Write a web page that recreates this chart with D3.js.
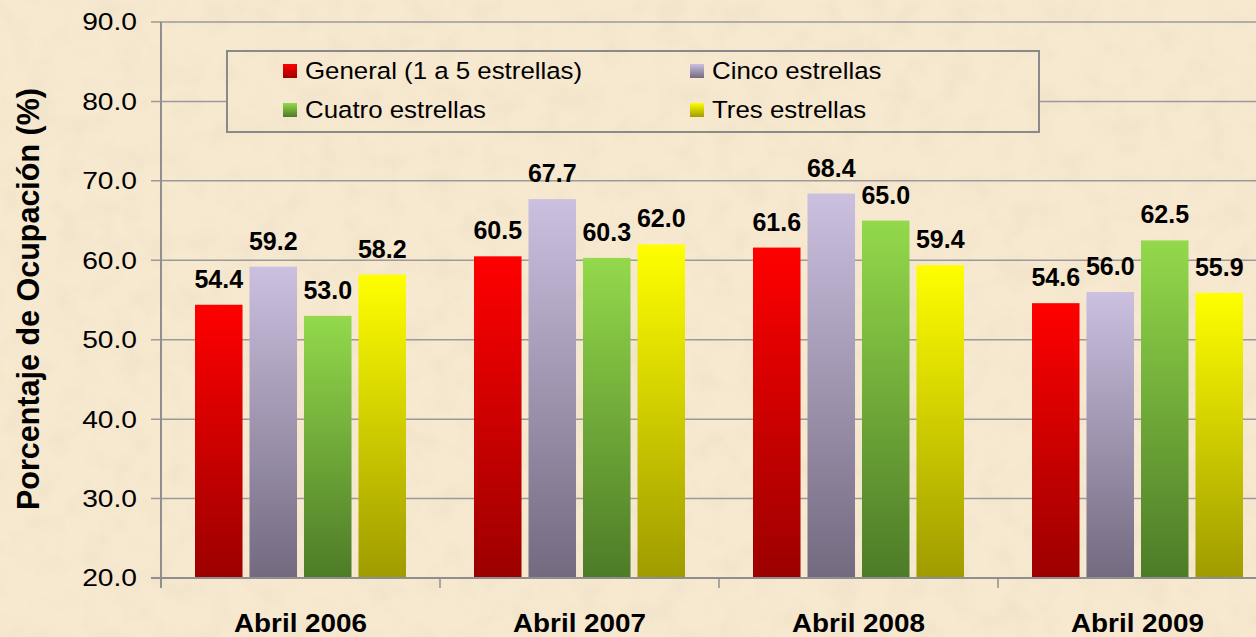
<!DOCTYPE html>
<head>
<meta charset="utf-8">
<script src="https://d3js.org/d3.v7.min.js"></script>
</head>
<style>
body { margin: 0; background: #f7e8d0; }
text { font-family: Arial, "Liberation Sans", sans-serif; fill: #000; }
.grid line { stroke: #9a9a9a; stroke-width: 1.5px; }
</style>
<body>
<script>
// data
var periods = ["Abril 2006", "Abril 2007", "Abril 2008", "Abril 2009"];
var seriesNames = ["General (1 a 5 estrellas)", "Cinco estrellas", "Cuatro estrellas", "Tres estrellas"];
var general = [54.4, 60.5, 61.6, 54.6];
var cinco   = [59.2, 67.7, 68.4, 56.0];
var cuatro  = [53.0, 60.3, 65.0, 62.5];
var tres    = [58.2, 62.0, 59.4, 55.9];
var yTicks  = [20, 30, 40, 50, 60, 70, 80, 90];

var seriesValues = [general, cinco, cuatro, tres];
var colors = [
  {top: "#ff0000", bottom: "#9c0000"},
  {top: "#cbc0df", bottom: "#736a80"},
  {top: "#93d94b", bottom: "#4d7b27"},
  {top: "#ffff00", bottom: "#9f9b00"}
];

var W = 1256, H = 637;
var plot = {left: 161, top: 22, bottom: 578, catWidth: 279};
var bg = "#f7e8d0";

var svg = d3.select("body").append("svg")
    .attr("width", W)
    .attr("height", H);

var defs = svg.append("defs");

// parchment texture
var filt = defs.append("filter").attr("id", "paper")
    .attr("x", 0).attr("y", 0).attr("width", "100%").attr("height", "100%");
filt.append("feTurbulence").attr("type", "fractalNoise")
    .attr("baseFrequency", "0.035").attr("numOctaves", 4).attr("seed", 7);
filt.append("feColorMatrix").attr("type", "matrix")
    .attr("values", "0 0 0 0 0.6  0 0 0 0 0.5  0 0 0 0 0.38  0 0 0 -1.6 0.95");

colors.forEach(function(c, i) {
  var g = defs.append("linearGradient").attr("id", "grad" + i)
      .attr("x1", 0).attr("y1", 0).attr("x2", 0).attr("y2", 1);
  g.append("stop").attr("offset", "0%").attr("stop-color", c.top);
  g.append("stop").attr("offset", "100%").attr("stop-color", c.bottom);
});

svg.append("rect").attr("width", W).attr("height", H).attr("fill", bg);
svg.append("rect").attr("width", W).attr("height", H)
    .attr("filter", "url(#paper)").attr("opacity", 0.14);

var x = d3.scaleBand()
    .domain(periods)
    .range([plot.left, plot.left + plot.catWidth * periods.length])
    .padding(0);

var xs = d3.scaleBand()
    .domain(d3.range(seriesNames.length))
    .range([34, 245])
    .paddingInner(0.128)
    .paddingOuter(0);

var y = d3.scaleLinear().domain([20, 90]).range([plot.bottom, plot.top]);

// gridlines
svg.append("g").attr("class", "grid")
  .selectAll("line").data(yTicks).enter().append("line")
    .attr("x1", plot.left - 10).attr("x2", W)
    .attr("y1", function(d) { return y(d); })
    .attr("y2", function(d) { return y(d); });

// y tick labels
svg.append("g").selectAll("text").data(yTicks).enter().append("text")
    .attr("transform", function(d) { return "translate(137," + y(d) + ") scale(1.2,1)"; })
    .attr("dy", "0.36em")
    .attr("text-anchor", "end")
    .style("font-size", "23.5px")
    .text(function(d) { return d3.format(".1f")(d); });

// y axis line
svg.append("line")
    .attr("x1", plot.left).attr("x2", plot.left)
    .attr("y1", plot.top).attr("y2", plot.bottom + 10)
    .attr("stroke", "#8f8f8f").attr("stroke-width", 2);

// x axis category boundary ticks
svg.append("g").selectAll("line").data(periods.slice(1)).enter().append("line")
    .attr("x1", function(d) { return x(d); })
    .attr("x2", function(d) { return x(d); })
    .attr("y1", plot.bottom).attr("y2", plot.bottom + 10)
    .attr("stroke", "#8f8f8f").attr("stroke-width", 1.5);

// legend box
var leg = svg.append("g");
leg.append("rect")
    .attr("x", 227).attr("y", 51).attr("width", 812).attr("height", 81)
    .attr("fill", bg).attr("stroke", "#8a8a8a").attr("stroke-width", 2);
leg.append("rect")
    .attr("x", 228).attr("y", 52).attr("width", 810).attr("height", 79)
    .attr("filter", "url(#paper)").attr("opacity", 0.14);

var legPos = [[283, 71], [690, 71], [283, 110], [690, 110]];
seriesNames.forEach(function(name, i) {
  var p = legPos[i];
  leg.append("rect")
      .attr("x", p[0]).attr("y", p[1] - 7).attr("width", 14).attr("height", 14)
      .attr("fill", "url(#grad" + i + ")");
  leg.append("text")
      .attr("transform", "translate(" + (p[0] + 22) + "," + p[1] + ") scale(1.1,1)")
      .attr("dy", "0.36em")
      .style("font-size", "23.5px")
      .text(name);
});

// bars
var groups = svg.append("g").selectAll("g").data(periods).enter().append("g")
    .attr("transform", function(d) { return "translate(" + x(d) + ",0)"; });

groups.each(function(p, pi) {
  var g = d3.select(this);
  seriesValues.forEach(function(vals, si) {
    var v = vals[pi];
    g.append("rect")
        .attr("x", xs(si))
        .attr("width", xs.bandwidth())
        .attr("y", y(v))
        .attr("height", plot.bottom - y(v))
        .attr("fill", "url(#grad" + si + ")");
    g.append("text")
        .attr("x", xs(si) + xs.bandwidth() / 2)
        .attr("y", y(v) - 17)
        .attr("text-anchor", "middle")
        .style("font-size", "25px")
        .style("font-weight", "bold")
        .text(d3.format(".1f")(v));
  });
});

// x axis baseline
svg.append("line")
    .attr("x1", plot.left - 10).attr("x2", W)
    .attr("y1", plot.bottom).attr("y2", plot.bottom)
    .attr("stroke", "#8f8f8f").attr("stroke-width", 2);

// category labels
svg.append("g").selectAll("text").data(periods).enter().append("text")
    .attr("transform", function(d) { return "translate(" + (x(d) + x.bandwidth() / 2) + ",632) scale(1.05,1)"; })
    .attr("text-anchor", "middle")
    .style("font-size", "26.5px")
    .style("font-weight", "bold")
    .text(function(d) { return d; });

// y axis title
svg.append("text")
    .attr("transform", "translate(39,299) rotate(-90)")
    .attr("text-anchor", "middle")
    .style("font-size", "30.5px")
    .style("font-weight", "bold")
    .text("Porcentaje de Ocupación (%)");
</script>
</body>
